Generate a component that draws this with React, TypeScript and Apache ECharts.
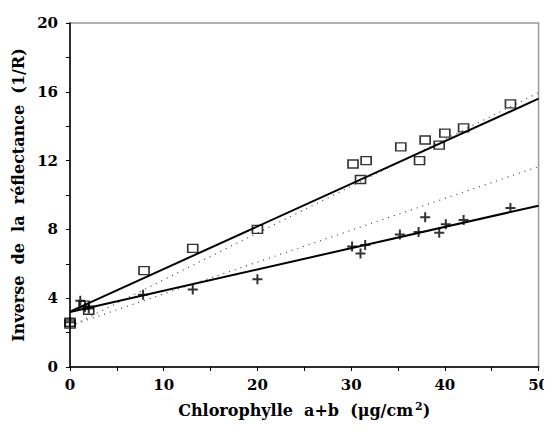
import React, { useEffect, useRef } from "react";
import * as echarts from "echarts";

const squareX = [0, 0, 1.5, 2, 7.9, 13.1, 20, 30.2, 31.0, 31.6, 35.3, 37.3, 37.9, 39.4, 40.0, 42.0, 47.0];
const squareY = [2.6, 2.5, 3.6, 3.3, 5.6, 6.9, 8.0, 11.8, 10.9, 12.0, 12.8, 12.0, 13.2, 12.9, 13.6, 13.9, 15.3];

const plusX = [0, 1.1, 1.6, 2.0, 7.8, 13.1, 20, 30.1, 31.0, 31.5, 35.2, 37.2, 37.9, 39.4, 40.1, 42.0, 47.0];
const plusY = [2.6, 3.85, 3.5, 3.4, 4.2, 4.5, 5.1, 7.0, 6.6, 7.1, 7.7, 7.85, 8.7, 7.8, 8.3, 8.55, 9.25];

const fitX = [0, 50];
const fitSquareSolid = [3.22, 15.6];
const fitPlusSolid = [3.2, 9.38];
const fitSquareDotted = [2.35, 15.95];
const fitPlusDotted = [2.4, 11.65];

const xTicks = { min: 0, max: 50, interval: 10 };
const yTicks = { min: 0, max: 20, interval: 4 };

const FONT = "DejaVu Serif";

export default function App() {
  const ref = useRef<HTMLDivElement>(null);
  useEffect(() => {
    if (!ref.current) return;
    const chart = echarts.init(ref.current, null, { renderer: "svg" });
    const pair = (xs: number[], ys: number[]) => xs.map((x, i) => [x, ys[i]]);
    const lineSeries = (ys: number[], dotted: boolean) => ({
      type: "line",
      data: pair(fitX, ys),
      symbol: "none",
      silent: true,
      lineStyle: dotted
        ? { color: "#444", width: 1.2, type: [1, 5] }
        : { color: "#000", width: 2 },
      z: 2,
    });
    chart.setOption({
      animation: false,
      backgroundColor: "#fff",
      grid: {
        left: 70,
        right: 10,
        top: 23,
        bottom: 64,
        show: true,
        borderColor: "#999",
        borderWidth: 1.5,
      },
      xAxis: {
        type: "value",
        min: xTicks.min,
        max: xTicks.max,
        interval: xTicks.interval,
        name: "{n|Chlorophylle  a+b  (\u03bcg/cm}{s|2}{n|)}",
        nameLocation: "middle",
        nameGap: 34,
        nameTextStyle: {
          rich: {
            n: { fontFamily: FONT, fontSize: 16, color: "#000", fontWeight: "bold" },
            s: { fontFamily: FONT, fontSize: 11, color: "#000", fontWeight: "bold", verticalAlign: "top", padding: [0, 0, 8, 2] },
          },
        },
        axisLine: { show: true, lineStyle: { color: "#000", width: 1.5 } },
        axisTick: { show: true, inside: false, length: 4, lineStyle: { color: "#000" } },
        minorTick: { show: true, splitNumber: 2, length: 4, lineStyle: { color: "#000" } },
        splitLine: { show: false },
        axisLabel: { fontFamily: FONT, fontSize: 15, color: "#000", fontWeight: "bold", margin: 10 },
      },
      yAxis: {
        type: "value",
        min: yTicks.min,
        max: yTicks.max,
        interval: yTicks.interval,
        name: "Inverse  de  la  r\u00e9flectance  (1/R)",
        nameLocation: "middle",
        nameRotate: 90,
        nameGap: 44,
        nameTextStyle: { fontFamily: FONT, fontSize: 16, color: "#000", fontWeight: "bold" },
        axisLine: { show: true, lineStyle: { color: "#000", width: 1.5 } },
        axisTick: { show: true, inside: false, length: 4, lineStyle: { color: "#000" } },
        minorTick: { show: true, splitNumber: 2, length: 4, lineStyle: { color: "#000" } },
        splitLine: { show: false },
        axisLabel: { fontFamily: FONT, fontSize: 15, color: "#000", fontWeight: "bold", margin: 12 },
      },
      series: [
        lineSeries(fitSquareDotted, true),
        lineSeries(fitPlusDotted, true),
        lineSeries(fitSquareSolid, false),
        lineSeries(fitPlusSolid, false),
        {
          type: "scatter",
          data: pair(squareX, squareY),
          symbol: "rect",
          symbolSize: [10, 8],
          itemStyle: { color: "rgba(255,255,255,0)", borderColor: "#000", borderWidth: 1.5 },
          z: 3,
        },
        {
          type: "scatter",
          data: pair(plusX, plusY),
          symbol: "path://M4,0h2v4h4v2h-4v4h-2v-4h-4v-2h4z",
          symbolSize: 10,
          itemStyle: { color: "#000" },
          z: 4,
        },
      ],
    });
    return () => chart.dispose();
  }, []);
  return <div ref={ref} style={{ width: 552, height: 431, margin: -8 }} />;
}
